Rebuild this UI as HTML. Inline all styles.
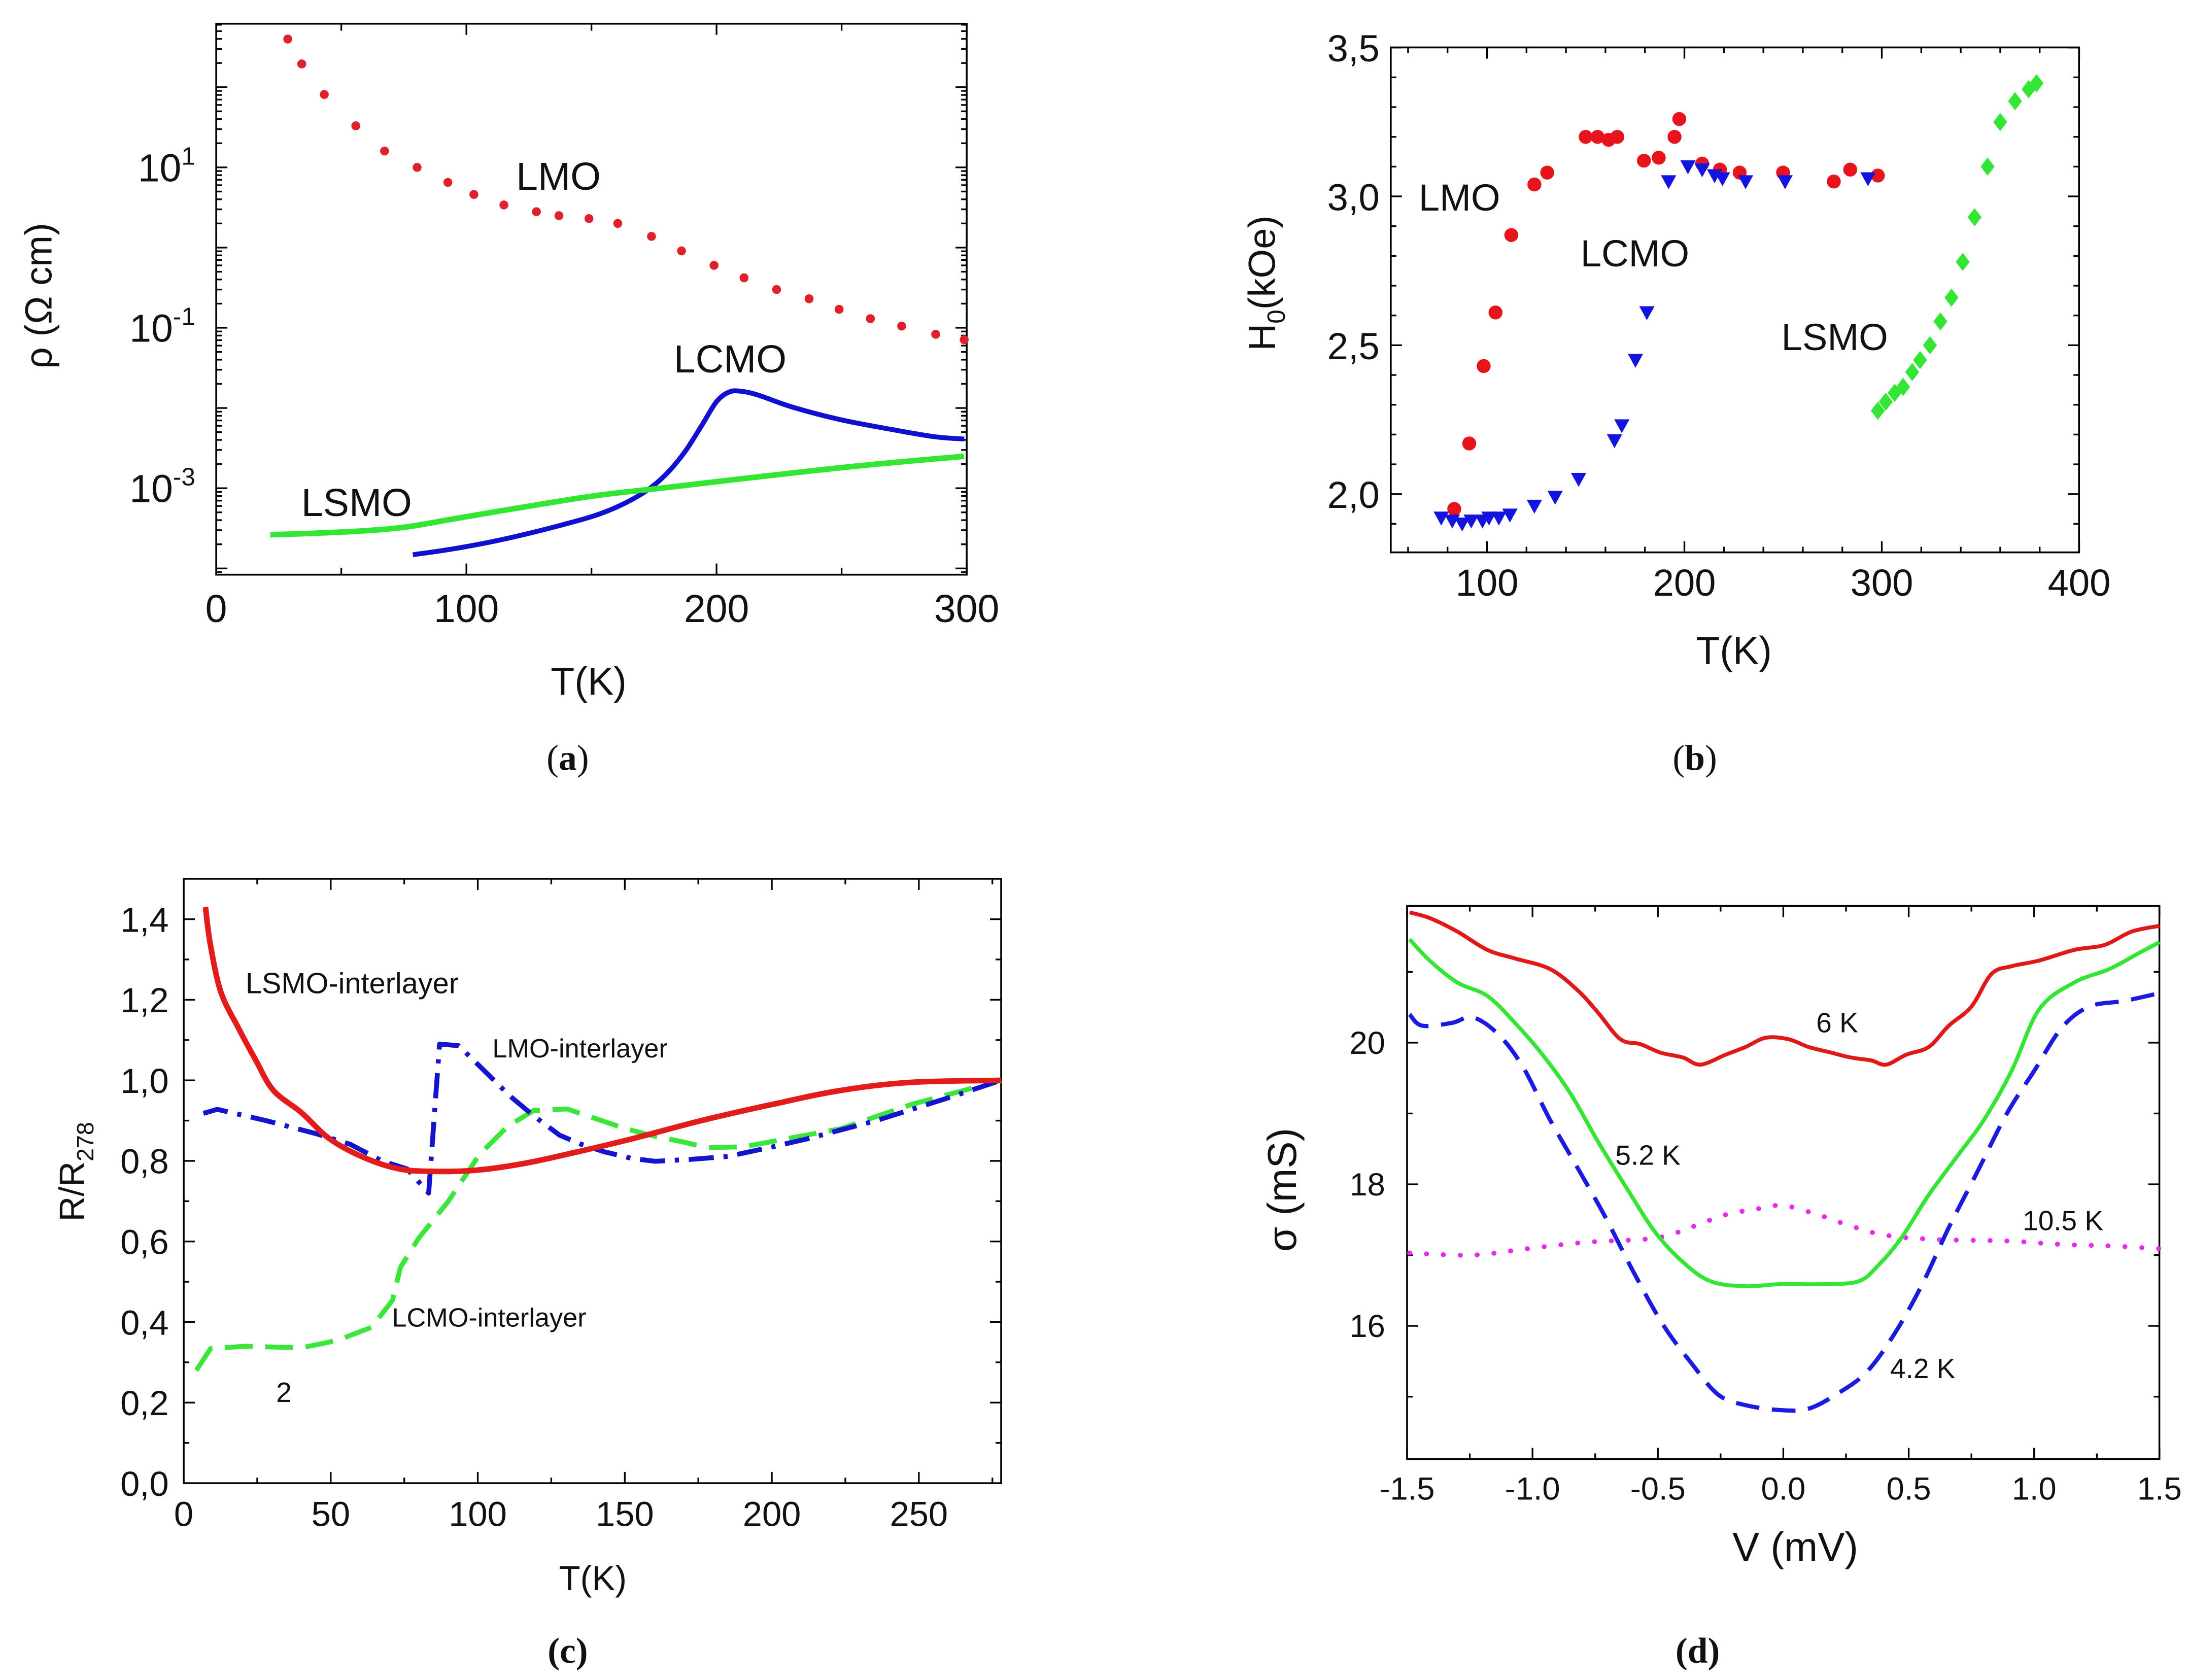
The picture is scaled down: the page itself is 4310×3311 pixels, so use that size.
<!DOCTYPE html>
<html><head><meta charset="utf-8"><style>
html,body{margin:0;padding:0;background:#fff;}
svg{display:block;font-family:"Liberation Sans",sans-serif;}
.cap{font-family:"Liberation Serif",serif;font-size:26px;}
</style></head><body>
<svg id="fig" xmlns="http://www.w3.org/2000/svg" width="4310" height="3311" viewBox="0 0 1567.8 1204.4" preserveAspectRatio="none">
<rect x="0" y="0" width="1567.8" height="1204.4" fill="#fff"/>
<g id="pa"></g>
<g id="pb"></g>
<g id="pc"></g>
<g id="pd"></g>
</svg>
<script>
// ---------- Panel (a) data ----------
const aLmoT=[28.6,34.2,43.2,55.8,67.3,80.3,92.6,103,115,128,137,149,160.5,174,186,199,211,224,237,249,261.5,274,287.6,299];
const aLmoRho=[398,195,81,33,16,10,6.5,4.6,3.4,2.8,2.5,2.3,2.0,1.38,0.91,0.60,0.42,0.30,0.23,0.17,0.13,0.105,0.083,0.071];
const aLcmoT=[78.6,96,115.6,138,155,169,178.7,187,194,200,205,209.6,216.6,230.6,250,270,286.8,299];
const aLcmoRho=[1.48e-4,1.78e-4,2.34e-4,3.47e-4,5.0e-4,8.1e-4,1.38e-3,2.75e-3,6.0e-3,1.2e-2,1.58e-2,1.62e-2,1.45e-2,1.02e-2,7.1e-3,5.4e-3,4.4e-3,4.1e-3];
const aLsmoT=[21.6,39.8,59.5,76.3,96,124,152,180,208,236,264,299];
const aLsmoRho=[2.63e-4,2.75e-4,2.95e-4,3.3e-4,4.2e-4,5.9e-4,8.1e-4,1.02e-3,1.29e-3,1.62e-3,2.0e-3,2.5e-3];
const aXTicks=[0,100,200,300];
const aYTickExp=[1,-1,-3];
// ---------- Panel (b) data ----------
const bLmoT=[83.4,91,98.3,104.3,112.3,124,130.5,150,156,161.6,166,179.5,187,195,197.4,209,218,228,250,275.7,284,298];
const bLmoH=[1.95,2.17,2.43,2.61,2.87,3.04,3.08,3.20,3.20,3.19,3.20,3.12,3.13,3.20,3.26,3.11,3.09,3.08,3.08,3.05,3.09,3.07];
const bLcmoT=[76.8,82.4,87.4,92,97.7,101,106,111.6,124,134.5,146.4,164.6,168.3,175.2,181,192,201.8,209,215.3,219.3,231,251,293];
const bLcmoH=[1.92,1.91,1.90,1.91,1.91,1.92,1.92,1.93,1.96,1.99,2.05,2.18,2.23,2.45,2.61,3.05,3.10,3.09,3.07,3.06,3.05,3.05,3.06];
const bLsmoT=[298,302,306.5,310.8,315.4,319.4,324.4,329.7,335.3,341,347,353.6,360,367.5,374.4,378.4];
const bLsmoH=[2.28,2.31,2.34,2.36,2.41,2.45,2.50,2.58,2.66,2.78,2.93,3.10,3.25,3.32,3.36,3.38];
const bXTicks=[100,200,300,400];
const bYTicks=[2.0,2.5,3.0,3.5];
const bYLabels=["2,0","2,5","3,0","3,5"];
// ---------- Panel (c) data ----------
const cLsmoT=[7.4,9,12.6,18.6,24.5,30.5,40,49.6,61.4,73.4,85.3,99.6,116,133,152,176,200,223.5,247.4,278];
const cLsmoR=[1.43,1.34,1.22,1.13,1.05,0.975,0.92,0.855,0.808,0.78,0.774,0.777,0.794,0.821,0.854,0.90,0.94,0.975,0.995,1.0];
const cLmoT=[6.7,11.4,28,44.8,56.7,67.4,76,83.3,87,93.5,103.6,111.1,119,127.8,134.9,142.8,152.5,160.4,172.7,185,199.7,211.6,235.5,259.3,278];
const cLmoR=[0.918,0.928,0.90,0.868,0.841,0.80,0.78,0.72,1.09,1.086,1.014,0.960,0.912,0.864,0.842,0.823,0.806,0.799,0.804,0.811,0.834,0.854,0.90,0.955,1.0];
const cLcmoT=[4.3,9.1,21,40,52,63.9,71,73.7,79.9,90,100.6,110.2,119,130.4,139.3,149.8,158.6,169.2,178,190.4,223.5,247.4,278];
const cLcmoR=[0.28,0.334,0.34,0.336,0.354,0.387,0.454,0.536,0.608,0.70,0.816,0.886,0.925,0.929,0.907,0.881,0.864,0.848,0.833,0.835,0.88,0.94,1.0];
const cXTicks=[0,50,100,150,200,250];
const cYTicks=[0,0.2,0.4,0.6,0.8,1.0,1.2,1.4];
const cYLabels=["0,0","0,2","0,4","0,6","0,8","1,0","1,2","1,4"];
// ---------- Panel (d) data ----------
const d6V=[-1.49,-1.41,-1.30,-1.18,-1.07,-0.93,-0.82,-0.74,-0.65,-0.57,-0.49,-0.40,-0.33,-0.23,-0.15,-0.07,0.02,0.10,0.19,0.27,0.35,0.41,0.49,0.58,0.66,0.75,0.83,0.91,1.02,1.16,1.28,1.39,1.50];
const d6S=[21.84,21.76,21.57,21.31,21.19,21.04,20.74,20.43,20.05,19.98,19.86,19.79,19.69,19.83,19.94,20.07,20.05,19.94,19.86,19.79,19.75,19.69,19.83,19.94,20.24,20.51,20.97,21.08,21.16,21.31,21.38,21.57,21.65];
const d52V=[-1.49,-1.41,-1.30,-1.18,-1.07,-0.96,-0.85,-0.74,-0.62,-0.51,-0.40,-0.29,-0.15,-0.01,0.16,0.30,0.38,0.47,0.58,0.69,0.80,0.91,1.02,1.16,1.30,1.42,1.50];
const d52S=[21.46,21.16,20.85,20.66,20.28,19.83,19.29,18.61,17.92,17.32,16.90,16.63,16.56,16.59,16.59,16.63,16.86,17.24,17.85,18.38,18.91,19.60,20.47,20.85,21.04,21.27,21.42];
const d42V=[-1.49,-1.44,-1.32,-1.24,-1.14,-1.04,-0.93,-0.82,-0.71,-0.60,-0.48,-0.37,-0.26,-0.15,-0.01,0.10,0.21,0.33,0.44,0.55,0.66,0.77,0.89,1.00,1.11,1.22,1.36,1.50];
const d42S=[20.40,20.24,20.28,20.36,20.13,19.67,18.91,18.23,17.54,16.78,16.02,15.49,15.03,14.88,14.81,14.83,15.03,15.34,15.87,16.56,17.39,18.15,18.99,19.60,20.21,20.51,20.59,20.70];
const d105V=[-1.49,-1.24,-1.02,-0.79,-0.51,-0.37,-0.23,-0.09,0.0,0.13,0.27,0.41,0.61,0.89,1.11,1.30,1.50];
const d105S=[17.03,17.00,17.09,17.18,17.24,17.39,17.57,17.66,17.70,17.58,17.41,17.28,17.22,17.20,17.15,17.13,17.09];
const dXTicks=[-1.5,-1.0,-0.5,0.0,0.5,1.0,1.5];
const dYTicks=[16,18,20];

const NS='http://www.w3.org/2000/svg';
function mk(tag,attrs,parent){const e=document.createElementNS(NS,tag);for(const k in attrs)e.setAttribute(k,attrs[k]);parent.appendChild(e);return e;}
function txt(parent,x,y,s,size,anchor,extra){const t=mk('text',Object.assign({x:x,y:y,'font-size':size,'text-anchor':anchor||'start',fill:'#111'},extra||{}),parent);t.textContent=s;return t;}
function pathD(xs,ys,fx,fy){return xs.map((v,i)=>(i?'L':'M')+fx(v).toFixed(2)+' '+fy(ys[i]).toFixed(2)).join(' ');}
function smoothD(xs,ys,fx,fy){const P=xs.map((v,i)=>[fx(v),fy(ys[i])]);let d='M'+P[0][0].toFixed(2)+' '+P[0][1].toFixed(2);
for(let i=0;i<P.length-1;i++){const p0=P[Math.max(0,i-1)],p1=P[i],p2=P[i+1],p3=P[Math.min(P.length-1,i+2)];
const c1=[p1[0]+(p2[0]-p0[0])/6,p1[1]+(p2[1]-p0[1])/6],c2=[p2[0]-(p3[0]-p1[0])/6,p2[1]-(p3[1]-p1[1])/6];
d+=' C'+c1[0].toFixed(2)+' '+c1[1].toFixed(2)+' '+c2[0].toFixed(2)+' '+c2[1].toFixed(2)+' '+p2[0].toFixed(2)+' '+p2[1].toFixed(2);}return d;}
function tick(parent,x1,y1,x2,y2){const l=mk('line',{x1:x1,y1:y1,x2:x2,y2:y2,stroke:'#000','stroke-width':1.2},parent);return l;}

// ===== Panel A =====
(function(){
const g=document.getElementById('pa');
const L=155,R=693,T=17,B=412;
const x=t=>L+t*(R-L)/300;
const y=r=>120-(Math.log10(r)-1)*57.5;
const fr=mk('rect',{x:L,y:T,width:R-L,height:B-T,fill:'none',stroke:'#000','stroke-width':1.3},g);


for(let t=0;t<=300;t+=50){const len=(t%100===0)?8:5;tick(g,x(t),B,x(t),B-len);tick(g,x(t),T,x(t),T+len);}
for(let e=-5;e<=3;e++){for(let m=1;m<10;m++){const v=m*Math.pow(10,e);const yy=y(v);if(yy<T||yy>B)continue;const len=m===1?8:4;tick(g,L,yy,L+len,yy);tick(g,R,yy,R-len,yy);}}
aXTicks.forEach(t=>{const e=txt(g,x(t),446,String(t),28,'middle');

});
aYTickExp.forEach(p=>{const e=txt(g,140,y(Math.pow(10,p))+10,'10',28,'end');const s=mk('tspan',{dy:-12,'font-size':18},e);s.textContent=String(p);

});
const lc=mk('path',{d:smoothD(aLcmoT,aLcmoRho,x,y),fill:'none',stroke:'#1010d0','stroke-width':3.5,'stroke-linejoin':'round'},g);


const ls=mk('path',{d:smoothD(aLsmoT,aLsmoRho,x,y),fill:'none',stroke:'#33e633','stroke-width':4,'stroke-linejoin':'round'},g);


aLmoT.forEach((t,i)=>{const c=mk('circle',{cx:x(t),cy:y(aLmoRho[i]),r:3.2,fill:'#e0202a'},g);

});
let e;
e=txt(g,370,136,'LMO',28);
e=txt(g,483,267,'LCMO',28);
e=txt(g,216,370,'LSMO',28);
e=txt(g,422,498,'T(K)',28,'middle');
e=txt(g,0,0,'ρ (Ω cm)',27,'middle',{transform:'translate(37,212) rotate(-90)'});
e=txt(g,407,552,'',26,'middle',{class:'cap'});

const s1=mk('tspan',{},e);s1.textContent='(';const s2=mk('tspan',{'font-weight':'bold'},e);s2.textContent='a';const s3=mk('tspan',{},e);s3.textContent=')';
})();

// ===== Panel B =====
(function(){
const g=document.getElementById('pb');
const L=997,R=1490.4,T=34,B=396;
const x=t=>1066+(t-100)*1.415;
const y=h=>140.8-(h-3)*213.4;
const fr=mk('rect',{x:L,y:T,width:R-L,height:B-T,fill:'none',stroke:'#000','stroke-width':1.3},g);


for(let t=60;t<=400;t+=20){const len=(t%100===0)?8:4;tick(g,x(t),B,x(t),B-len);tick(g,x(t),T,x(t),T+len);}
for(let h=1.9;h<=3.51;h+=0.1){const hh=Math.round(h*10)/10;const len=(Math.round(hh*10)%5===0)?8:4;tick(g,L,y(hh),L+len,y(hh));tick(g,R,y(hh),R-len,y(hh));}
bXTicks.forEach(t=>{const e=txt(g,x(t),427,String(t),27,'middle');

});
bYTicks.forEach((h,i)=>{const e=txt(g,989,y(h)+10,bYLabels[i],27,'end');

});
bLmoT.forEach((t,i)=>{const c=mk('circle',{cx:x(t),cy:y(bLmoH[i]),r:5,fill:'#e8141c'},g);

});
bLcmoT.forEach((t,i)=>{const cx=x(t),cy=y(bLcmoH[i]);const p=mk('polygon',{points:(cx-5.5)+','+(cy-4.5)+' '+(cx+5.5)+','+(cy-4.5)+' '+cx+','+(cy+5.5),fill:'#1414e0'},g);

});
bLsmoT.forEach((t,i)=>{const cx=x(t),cy=y(bLsmoH[i]);const p=mk('polygon',{points:cx+','+(cy-6.5)+' '+(cx+5)+','+cy+' '+cx+','+(cy+6.5)+' '+(cx-5)+','+cy,fill:'#33e633'},g);

});
let e;
e=txt(g,1017,151,'LMO',27);
e=txt(g,1133,191,'LCMO',27);
e=txt(g,1277,251,'LSMO',27);
e=txt(g,1243,476,'T(K)',28,'middle');
e=txt(g,0,0,'H',27,'middle',{transform:'translate(914,203) rotate(-90)'});
const sb=mk('tspan',{dy:7,'font-size':18},e);sb.textContent='0';const sr=mk('tspan',{dy:-7},e);sr.textContent='(kOe)';

e=txt(g,1215,552,'',26,'middle',{class:'cap'});

const s1=mk('tspan',{},e);s1.textContent='(';const s2=mk('tspan',{'font-weight':'bold'},e);s2.textContent='b';const s3=mk('tspan',{},e);s3.textContent=')';
})();

// ===== Panel C =====
(function(){
const g=document.getElementById('pc');
const L=131.7,R=717.7,T=630,B=1063.3;
const x=t=>131.7+t*2.108;
const y=r=>1063.3-r*288.8;
const fr=mk('rect',{x:L,y:T,width:R-L,height:B-T,fill:'none',stroke:'#000','stroke-width':1.3},g);


for(let t=25;t<=275;t+=25){const len=(t%50===0)?8:4;tick(g,x(t),B,x(t),B-len);tick(g,x(t),T,x(t),T+len);}
for(let k=1;k<=14;k++){const r=k/10;const len=(k%2===0)?8:4;tick(g,L,y(r),L+len,y(r));tick(g,R,y(r),R-len,y(r));}
cXTicks.forEach(t=>{const e=txt(g,x(t),1094,String(t),25,'middle');

});
cYTicks.forEach((r,i)=>{const e=txt(g,121,y(r)+9,cYLabels[i],25,'end');

});
const gc=mk('path',{d:pathD(cLcmoT,cLcmoR,x,y),fill:'none',stroke:'#3ae63a','stroke-width':3.5,'stroke-dasharray':'20 9','stroke-linejoin':'round'},g);


const bc=mk('path',{d:pathD(cLmoT,cLmoR,x,y),fill:'none',stroke:'#1414d0','stroke-width':3.5,'stroke-dasharray':'18 7 3 7','stroke-linejoin':'round'},g);


const rc=mk('path',{d:smoothD(cLsmoT,cLsmoR,x,y),fill:'none',stroke:'#e31b1b','stroke-width':4,'stroke-linejoin':'round'},g);


let e;
e=txt(g,176,712,'LSMO-interlayer',21);
e=txt(g,353,758,'LMO-interlayer',19);
e=txt(g,281,951,'LCMO-interlayer',19);
e=txt(g,198,1005,'2',20);
e=txt(g,425,1140,'T(K)',25,'middle');
e=txt(g,0,0,'R/R',25,'middle',{transform:'translate(60,840) rotate(-90)'});
const sb=mk('tspan',{dy:7,'font-size':17},e);sb.textContent='278';

e=txt(g,407,1192,'(c)',26,'middle',{class:'cap','font-weight':'bold'});

})();

// ===== Panel D =====
(function(){
const g=document.getElementById('pd');
const L=1008.7,R=1548,T=649.5,B=1046;
const x=v=>1008.7+(v+1.5)*179.8;
const y=s=>747.5-(s-20)*50.76;
const fr=mk('rect',{x:L,y:T,width:R-L,height:B-T,fill:'none',stroke:'#000','stroke-width':1.3},g);


for(let k=-6;k<=6;k++){const v=k/4;const len=(k%2===0)?8:4;tick(g,x(v),B,x(v),B-len);tick(g,x(v),T,x(v),T+len);}
for(let s=15;s<=21;s++){const len=(s%2===0)?8:4;tick(g,L,y(s),L+len,y(s));tick(g,R,y(s),R-len,y(s));}
dXTicks.forEach(v=>{const e=txt(g,x(v),1075,v.toFixed(1),23,'middle');

});
dYTicks.forEach(s=>{const e=txt(g,993,y(s)+8,String(s),23,'end');

});
const m=mk('path',{d:smoothD(d105V,d105S,x,y),fill:'none',stroke:'#ea2aea','stroke-width':3.5,'stroke-dasharray':'0.1 12','stroke-linecap':'round'},g);


const b=mk('path',{d:smoothD(d42V,d42S,x,y),fill:'none',stroke:'#1a1ae0','stroke-width':3,'stroke-dasharray':'17 9'},g);


const gr=mk('path',{d:smoothD(d52V,d52S,x,y),fill:'none',stroke:'#33e633','stroke-width':2.8,'stroke-linejoin':'round'},g);


const r=mk('path',{d:smoothD(d6V,d6S,x,y),fill:'none',stroke:'#e01818','stroke-width':2.8,'stroke-linejoin':'round'},g);


let e;
e=txt(g,1302,740,'6 K',20);
e=txt(g,1158,835,'5.2 K',20);
e=txt(g,1450,882,'10.5 K',20);
e=txt(g,1355,988,'4.2 K',20);
e=txt(g,1287,1119,'V (mV)',29,'middle');
e=txt(g,0,0,'σ (mS)',29,'middle',{transform:'translate(929,853) rotate(-90)'});
e=txt(g,1217,1192,'(d)',26,'middle',{class:'cap','font-weight':'bold'});

})();
</script>
</body></html>
